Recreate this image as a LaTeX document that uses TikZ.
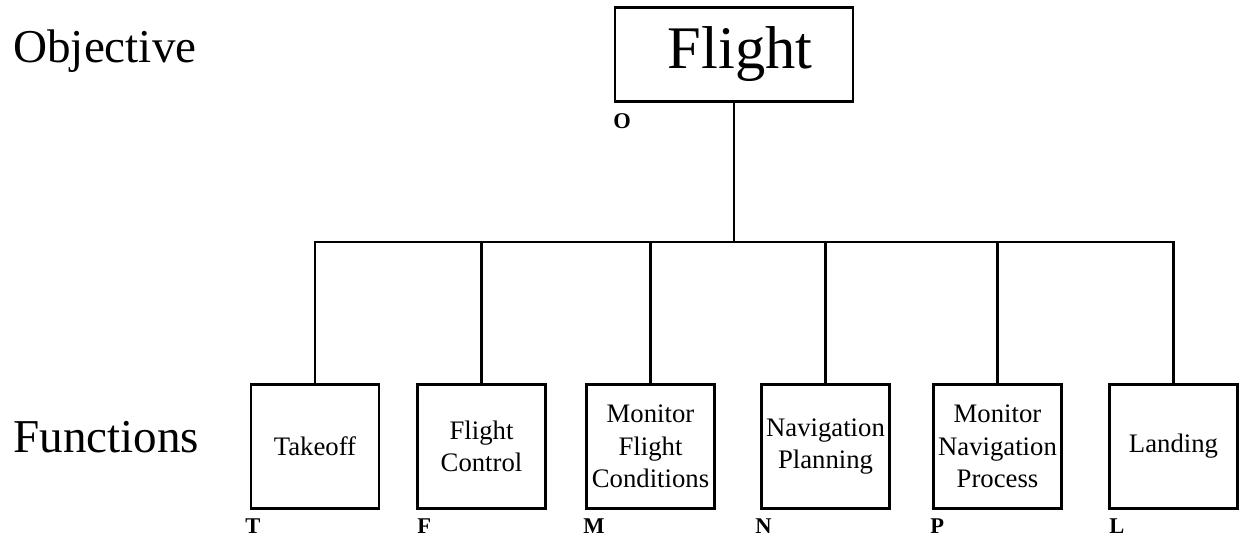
\documentclass[tikz,border=0pt]{standalone}
\usepackage{fontspec}
\setmainfont{Liberation Serif}
\usetikzlibrary{positioning}

\tikzset{
  funcbox/.style={draw, line width=2pt, minimum width=3.2cm, minimum height=3.08cm,
    align=center, inner sep=1pt, font=\fontsize{19}{23}\selectfont},
  tag/.style={anchor=base west, inner sep=0pt, font=\fontsize{16}{16}\selectfont\bfseries},
  level/.style={anchor=base west, inner sep=0pt, font=\fontsize{33.5}{33.5}\selectfont}
}

\begin{document}
\begin{tikzpicture}[x=0.025cm, y=-0.025cm, line width=2pt]
    \useasboundingbox (0,0) rectangle (1241,541);

    % Niveles
    \node[level] (objlbl) at (12,62) {Objective};
    \node[level] (funlbl) at (12,452) {Functions};

    % Objetivo
    \node[draw, line width=2pt, minimum width=5.95cm, minimum height=2.35cm,
          font=\fontsize{43}{43}\selectfont] (flight) at (734,54.5) {\hspace{0.3cm}Flight};
    \node[tag] (otag) at (612,128) {O};

    % Funciones
    \node[funcbox] (tko) at (315,446.5) {Takeoff};
    \node[funcbox] (fctl) at (481.5,446.5) {Flight\\Control};
    \node[funcbox] (mfc) at (650.5,446.5) {Monitor\\Flight\\Conditions};
    \node[funcbox] (navp) at (825.5,446.5) {Navigation\\Planning};
    \node[funcbox] (mnp) at (997.5,446.5) {Monitor\\Navigation\\Process};
    \node[funcbox] (lnd) at (1173.5,446.5) {Landing};

    \node[tag] (ttag) at (244,533) {T};
    \node[tag] (ftag) at (416,533) {F};
    \node[tag] (mtag) at (582,533) {M};
    \node[tag] (ntag) at (754,533) {N};
    \node[tag] (ptag) at (929,533) {P};
    \node[tag] (ltag) at (1108,533) {L};

    % Conexiones
    \coordinate (bus) at (flight.south |- 0,242);
    \draw (flight.south) -- (bus);
    \foreach \f in {tko,fctl,mfc,navp,mnp,lnd}
        \draw (\f.north) |- (bus);
\end{tikzpicture}
\end{document}
